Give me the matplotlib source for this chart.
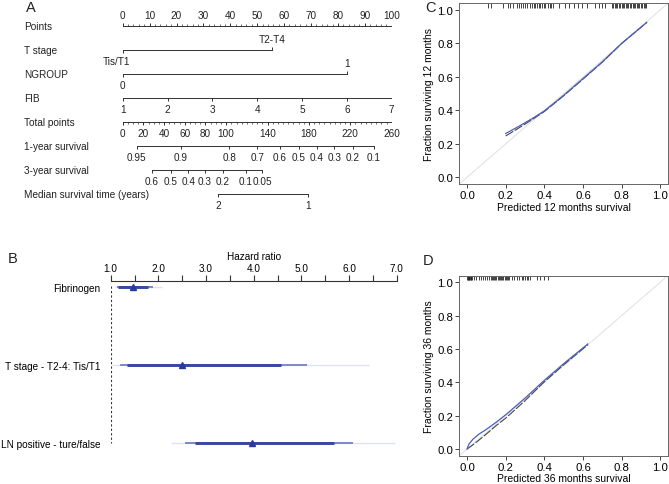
import numpy as np
import matplotlib
matplotlib.use("Agg")
import matplotlib.pyplot as plt

plt.rcParams['font.family'] = ['Liberation Sans', 'DejaVu Sans']
plt.rcParams['text.color'] = '#222222'

# ---- data: nomogram (A) ----
row_names = ["Points", "T stage", "NGROUP", "FIB", "Total points",
             "1-year survival", "3-year survival", "Median survival time (years)"]
points_ticks = list(range(0, 101, 10))
tstage_labels = ["Tis/T1", "T2-T4"]
tstage_points = [0, 55.5]
ngroup_labels = ["0", "1"]
ngroup_points = [0, 83.3]
fib_values = [1, 2, 3, 4, 5, 6, 7]
fib_points = [0, 16.67, 33.33, 50, 66.67, 83.33, 100]
total_max = 260
total_labels = [0, 20, 40, 60, 80, 100, 140, 180, 220, 260]
surv1_labels = ["0.95", "0.9", "0.8", "0.7", "0.6", "0.5", "0.4", "0.3", "0.2", "0.1"]
surv1_total = [13.5, 56.4, 103, 130.1, 152, 170.4, 187.5, 204.5, 222.3, 242.9]
surv3_labels = ["0.6", "0.5", "0.4", "0.3", "0.2", "0.1", "0.05"]
surv3_total = [28.0, 46.4, 63.4, 79.5, 96.7, 119.2, 134.9]
median_labels = ["2", "1"]
median_total = [92.4, 179.4]

# ---- data: hazard ratios (B) ----
hr_names = ["Fibrinogen", "T stage - T2-4: Tis/T1", "LN positive - ture/false"]
hr_est = [1.46, 2.49, 3.97]
hr_lo90 = [1.15, 1.34, 2.77]
hr_hi90 = [1.78, 4.58, 5.69]
hr_lo95 = [1.13, 1.19, 2.56]
hr_hi95 = [1.89, 5.12, 6.09]
hr_lo99 = [1.09, 1.02, 2.26]
hr_hi99 = [2.07, 6.42, 6.96]

# ---- data: calibration (C, D) ----
c_pred = [0.20, 0.25, 0.30, 0.35, 0.40, 0.45, 0.50, 0.60, 0.70, 0.80, 0.93]
c_obs_blue = [0.262, 0.293, 0.326, 0.36, 0.397, 0.443, 0.49, 0.59, 0.69, 0.80, 0.926]
c_obs_black = [0.247, 0.282, 0.318, 0.355, 0.393, 0.44, 0.487, 0.587, 0.688, 0.80, 0.925]
c_rug = [0.107, 0.126, 0.184, 0.21, 0.224, 0.236, 0.259, 0.267, 0.278, 0.29, 0.302,
         0.311, 0.328, 0.336, 0.345, 0.354, 0.362, 0.371, 0.379, 0.388, 0.397, 0.405,
         0.419, 0.428, 0.436, 0.445, 0.474, 0.509, 0.53, 0.552, 0.573, 0.595, 0.621,
         0.664, 0.685, 0.698, 0.716, 0.75, 0.757, 0.764, 0.771, 0.778, 0.785, 0.792,
         0.8, 0.807, 0.814, 0.821, 0.828, 0.835, 0.842, 0.85, 0.857, 0.864, 0.871,
         0.878, 0.885, 0.892, 0.9, 0.907, 0.914, 0.921, 0.928]
d_pred = [0.0, 0.01, 0.03, 0.06, 0.10, 0.15, 0.20, 0.30, 0.40, 0.50, 0.625]
d_obs_blue = [0.0, 0.03, 0.058, 0.088, 0.118, 0.16, 0.205, 0.305, 0.412, 0.512, 0.63]
d_obs_black = [0.0, 0.008, 0.025, 0.052, 0.09, 0.14, 0.185, 0.29, 0.403, 0.505, 0.625]
d_rug = [0.0, 0.003, 0.006, 0.009, 0.012, 0.015, 0.018, 0.021, 0.024, 0.034, 0.045,
         0.06, 0.072, 0.082, 0.094, 0.104, 0.114, 0.122, 0.128, 0.134, 0.14, 0.146,
         0.152, 0.158, 0.164, 0.17, 0.176, 0.182, 0.188, 0.194, 0.2, 0.206, 0.212,
         0.218, 0.232, 0.245, 0.258, 0.27, 0.284, 0.292, 0.3, 0.31, 0.318, 0.328,
         0.36, 0.38, 0.40, 0.42]

W, H = 669, 485
fig = plt.figure(figsize=(W / 100, H / 100), dpi=100)


def px_axes(left, top, right, bottom):
    return fig.add_axes([left / W, 1 - bottom / H, (right - left) / W, (bottom - top) / H])


FS = 7.2
LC = '#333333'

# ================= A: nomogram =================
axA = px_axes(122.7, 3, 391.7, 219)
axA.set_xlim(0, 100)
axA.set_ylim(8, -1)
axA.axis('off')
tl = 0.13   # tick length (row units)
off = 0.47  # label offset


def scale_row(ax, row, pos, labels, up, minor=None):
    ax.plot([min(pos), max(pos)], [row, row], color=LC, lw=0.7)
    d = -1 if up else 1
    ax.vlines(pos, row, row + d * tl, color=LC, lw=0.7)
    if minor is not None:
        ax.vlines(minor, row, row + d * tl * 0.6, color=LC, lw=0.5)
    for p, l in zip(pos, labels):
        ax.text(p, row + d * off, l, ha='center', va='center', fontsize=FS)


for i, name in enumerate(row_names):
    axA.text(-36.7, i, name, ha='left', va='center', fontsize=FS)

scale_row(axA, 0, points_ticks, [str(t) for t in points_ticks], True,
          minor=np.arange(0, 101, 2))
# T stage: labels split above / below
axA.plot(tstage_points, [1, 1], color=LC, lw=0.7)
axA.vlines(tstage_points[0], 1, 1 + tl, color=LC, lw=0.7)
axA.vlines(tstage_points[1], 1, 1 - tl, color=LC, lw=0.7)
axA.text(tstage_points[0] - 2.2, 1 + off, tstage_labels[0], ha='center', va='center', fontsize=FS)
axA.text(tstage_points[1], 1 - off, tstage_labels[1], ha='center', va='center', fontsize=FS)
# NGROUP
axA.plot(ngroup_points, [2, 2], color=LC, lw=0.7)
axA.vlines(ngroup_points[0], 2, 2 + tl, color=LC, lw=0.7)
axA.vlines(ngroup_points[1], 2, 2 - tl, color=LC, lw=0.7)
axA.text(ngroup_points[0], 2 + off, ngroup_labels[0], ha='center', va='center', fontsize=FS)
axA.text(ngroup_points[1], 2 - off, ngroup_labels[1], ha='center', va='center', fontsize=FS)
# FIB
scale_row(axA, 3, fib_points, [str(v) for v in fib_values], False)
# Total points
k = 100 / total_max
scale_row(axA, 4, [t * k for t in total_labels], [str(t) for t in total_labels], False,
          minor=np.arange(0, total_max + 1, 5) * k)
scale_row(axA, 5, [t * k for t in surv1_total], surv1_labels, False)
scale_row(axA, 6, [t * k for t in surv3_total], surv3_labels, False)
scale_row(axA, 7, [t * k for t in median_total], median_labels, False)

# ================= B: hazard ratios =================
axB = px_axes(110.7, 282, 396.7, 467.6)
axB.set_xlim(1, 7)
axB.set_ylim(2.3, -0.08)
for s in ['left', 'right', 'bottom']:
    axB.spines[s].set_visible(False)
axB.spines['top'].set_color(LC)
axB.spines['top'].set_linewidth(0.8)
axB.xaxis.set_ticks_position('top')
axB.xaxis.set_label_position('top')
axB.set_xticks(np.arange(1, 7.01, 1))
axB.set_xticklabels([f"{v:.1f}" for v in np.arange(1, 7.01, 1)], fontsize=FS)
axB.set_xticks(np.arange(1.5, 7, 1), minor=True)
axB.tick_params(axis='x', which='both', direction='out', length=4.3, width=0.8,
                color=LC, pad=1.5)
axB.set_xlabel("Hazard ratio", fontsize=FS, labelpad=3)
rows = np.arange(len(hr_names))
axB.set_yticks(rows)
axB.set_yticklabels(hr_names, fontsize=FS)
axB.tick_params(axis='y', length=0, pad=7.7)
axB.vlines(1.0, rows[0] - 0.02, rows[-1], colors='#333333', linestyles=(0, (2, 2)), lw=0.8)
axB.hlines(rows, hr_lo99, hr_hi99, colors='#dfe2f3', lw=1.0)
axB.hlines(rows, hr_lo95, hr_hi95, colors='#7d88c9', lw=1.4)
axB.hlines(rows, hr_lo90, hr_hi90, colors='#3548a3', lw=2.1)
axB.plot(hr_est, rows, ls='none', marker='^', ms=4, color='#283c98')


# ================= C / D: calibration =================
def calib(ax, pred, blue, black, rug, months):
    ax.set_xlim(-0.04, 1.04)
    ax.set_ylim(-0.04, 1.04)
    ticks = [0.0, 0.2, 0.4, 0.6, 0.8, 1.0]
    ax.set_xticks(ticks)
    ax.set_yticks(ticks)
    ax.set_xticklabels([f"{t:.1f}" for t in ticks], fontsize=8.2)
    ax.set_yticklabels([f"{t:.1f}" for t in ticks], fontsize=8.2)
    ax.tick_params(direction='out', length=3, width=0.7, color='#444444', pad=1.5)
    for s in ax.spines.values():
        s.set_color('#666666')
        s.set_linewidth(0.7)
    ax.axline((0, 0), slope=1, color='#e3e3e3', lw=0.8)
    ax.plot(pred, black, color='#444444', lw=0.8, ls=(0, (8, 1.5)))
    ax.plot(pred, blue, color='#4d5fba', lw=0.9)
    ax.vlines(rug, 1.013, 1.04, color='#222222', lw=0.6)
    ax.set_xlabel(f"Predicted {months} months survival", fontsize=7.5, labelpad=1)
    ax.set_ylabel(f"Fraction surviving {months} months", fontsize=7.5, labelpad=2)


axC = px_axes(459.3, 4.3, 668, 185)
calib(axC, c_pred, c_obs_blue, c_obs_black, c_rug, 12)
axD = px_axes(459.3, 276.6, 668, 456.7)
calib(axD, d_pred, d_obs_blue, d_obs_black, d_rug, 36)

# panel letters
for lab, x, y in [("A", 31, 8), ("B", 13, 259), ("C", 430, 8), ("D", 428, 261)]:
    fig.text(x / W, 1 - y / H, lab, fontsize=10.5, ha='center', va='center')

fig.savefig("out.png", dpi=100)
